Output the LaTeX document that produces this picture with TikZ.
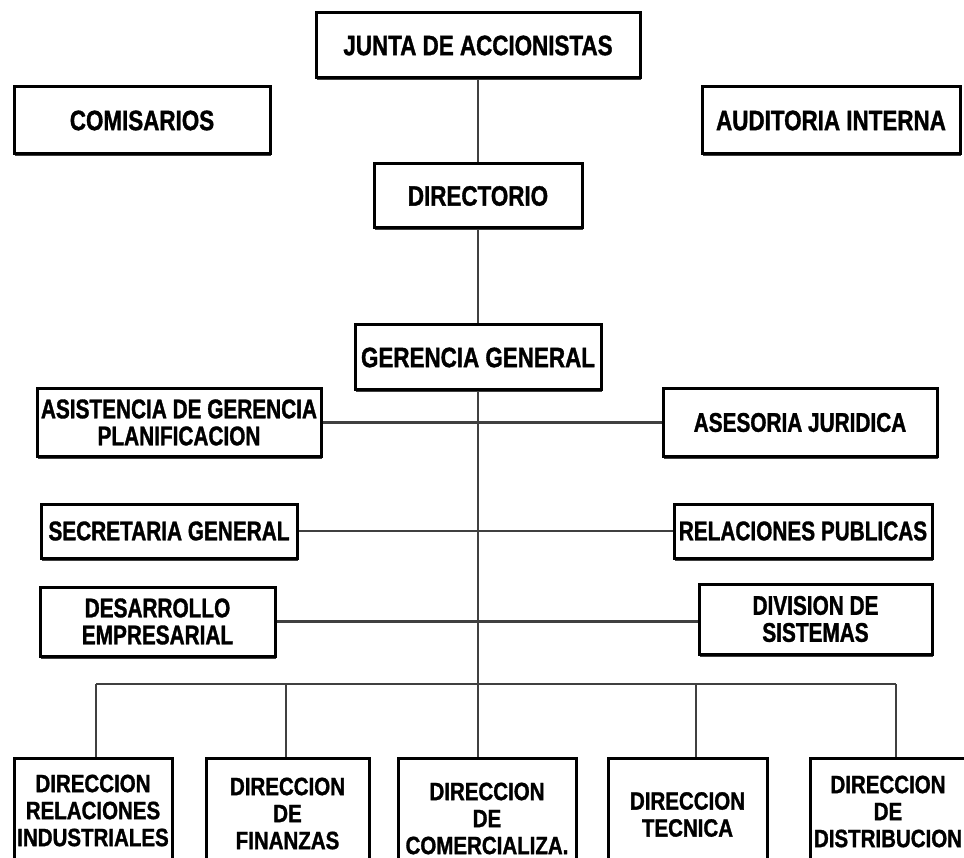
\documentclass[tikz,border=0pt]{standalone}
\usepackage{fontspec}
\setmainfont{Liberation Sans}
\newfontfamily\fa{Liberation Sans}[FakeStretch=0.80, FakeBold=1.2]
\newfontfamily\fb{Liberation Sans}[FakeStretch=0.77, FakeBold=1.2]
\newfontfamily\fc{Liberation Sans}[FakeStretch=0.82, FakeBold=1.2]
\usetikzlibrary{shadows}
\begin{document}
\begin{tikzpicture}[x=1pt,y=-1pt,
  box/.style={draw=black, line width=3pt, fill=white, inner sep=0pt, align=center,
    font=\fb\bfseries\fontsize{27}{27}\selectfont,
    drop shadow={shadow xshift=0.8pt, shadow yshift=-2.5pt, fill=black!75, opacity=1}},
  topbox/.style={box, font=\fa\bfseries\fontsize{28}{28}\selectfont},
  botbox/.style={draw=black, line width=3pt, fill=white, inner sep=0pt, align=center, anchor=north,
    font=\fc\bfseries\fontsize{25}{27}\selectfont},
  link/.style={draw=black!75, line width=2.2pt}]
\useasboundingbox (0,0) rectangle (964,858);
\clip (0,0) rectangle (964,858);
% top
\node[topbox, minimum width=324pt, minimum height=65pt] (junta) at (478,45.5) {JUNTA DE ACCIONISTAS};
\node[topbox, minimum width=256pt, minimum height=67pt] (comis) at (142,120.5) {COMISARIOS};
\node[topbox, minimum width=258pt, minimum height=67pt] (audit) at (831,120.5) {AUDITORIA INTERNA};
\node[topbox, minimum width=208pt, minimum height=64pt] (direc) at (478,196) {DIRECTORIO};
\node[topbox, minimum width=246pt, minimum height=65pt] (geren) at (478,357.5) {GERENCIA GENERAL};
% staff
\node[box, minimum width=284pt, minimum height=67pt] (asis) at (179,422.5) {ASISTENCIA DE GERENCIA\\PLANIFICACION};
\node[box, minimum width=274pt, minimum height=67pt] (aseso) at (800,422.5) {ASESORIA JURIDICA};
\node[box, minimum width=256pt, minimum height=54pt] (secre) at (169,531) {SECRETARIA GENERAL};
\node[box, minimum width=258pt, minimum height=54pt] (relac) at (803,531) {RELACIONES PUBLICAS};
\node[box, minimum width=235pt, minimum height=69pt] (desa) at (157.5,621.5) {DESARROLLO\\EMPRESARIAL};
\node[box, minimum width=233pt, minimum height=70pt] (divi) at (815.5,619) {DIVISION DE\\SISTEMAS};
% bottom
\node[botbox, minimum width=158pt, minimum height=104pt] (d1) at (93,757) {DIRECCION\\RELACIONES\\INDUSTRIALES};
\node[botbox, minimum width=163pt, minimum height=110pt] (d2) at (287.5,757) {DIRECCION\\DE\\FINANZAS};
\node[botbox, minimum width=178pt, minimum height=120pt] (d3) at (487,757) {DIRECCION\\DE\\COMERCIALIZA.};
\node[botbox, minimum width=159pt, minimum height=112pt] (d4) at (687.5,757) {DIRECCION\\TECNICA};
\node[botbox, minimum width=156pt, minimum height=106pt] (d5) at (888,757) {DIRECCION\\DE\\DISTRIBUCION};
% bus coordinates
\coordinate (b1) at (96,684);
\coordinate (b2) at (286,684);
\coordinate (b3) at (478,684);
\coordinate (b4) at (696,684);
\coordinate (b5) at (896,684);
% connectors
\draw[link] (junta.south) -- (junta.south |- direc.north);
\draw[link] (direc.south) -- (direc.south |- geren.north);
\draw[link] (geren.south) -- (b3);
\draw[link] (asis.east) -- (aseso.west);
\draw[link] (secre.east) -- (relac.west);
\draw[link] (desa.east) -- (desa.east -| divi.west);
\draw[link] (b1) -- (b5);
\draw[link] (b1) -- (b1 |- d1.north);
\draw[link] (b2) -- (b2 |- d2.north);
\draw[link] (b3) -- (b3 |- d3.north);
\draw[link] (b4) -- (b4 |- d4.north);
\draw[link] (b5) -- (b5 |- d5.north);
\end{tikzpicture}
\end{document}
